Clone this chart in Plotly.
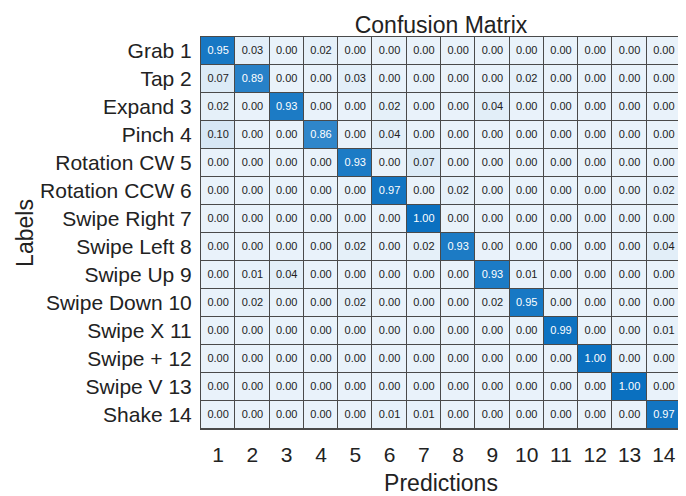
import plotly.graph_objects as go

row_labels = ["Grab 1", "Tap 2", "Expand 3", "Pinch 4", "Rotation CW 5", "Rotation CCW 6",
              "Swipe Right 7", "Swipe Left 8", "Swipe Up 9", "Swipe Down 10", "Swipe X 11",
              "Swipe + 12", "Swipe V 13", "Shake 14"]
col_labels = [str(i) for i in range(1, 15)]

matrix = [
    [0.95, 0.03, 0.00, 0.02, 0.00, 0.00, 0.00, 0.00, 0.00, 0.00, 0.00, 0.00, 0.00, 0.00],
    [0.07, 0.89, 0.00, 0.00, 0.03, 0.00, 0.00, 0.00, 0.00, 0.02, 0.00, 0.00, 0.00, 0.00],
    [0.02, 0.00, 0.93, 0.00, 0.00, 0.02, 0.00, 0.00, 0.04, 0.00, 0.00, 0.00, 0.00, 0.00],
    [0.10, 0.00, 0.00, 0.86, 0.00, 0.04, 0.00, 0.00, 0.00, 0.00, 0.00, 0.00, 0.00, 0.00],
    [0.00, 0.00, 0.00, 0.00, 0.93, 0.00, 0.07, 0.00, 0.00, 0.00, 0.00, 0.00, 0.00, 0.00],
    [0.00, 0.00, 0.00, 0.00, 0.00, 0.97, 0.00, 0.02, 0.00, 0.00, 0.00, 0.00, 0.00, 0.02],
    [0.00, 0.00, 0.00, 0.00, 0.00, 0.00, 1.00, 0.00, 0.00, 0.00, 0.00, 0.00, 0.00, 0.00],
    [0.00, 0.00, 0.00, 0.00, 0.02, 0.00, 0.02, 0.93, 0.00, 0.00, 0.00, 0.00, 0.00, 0.04],
    [0.00, 0.01, 0.04, 0.00, 0.00, 0.00, 0.00, 0.00, 0.93, 0.01, 0.00, 0.00, 0.00, 0.00],
    [0.00, 0.02, 0.00, 0.00, 0.02, 0.00, 0.00, 0.00, 0.02, 0.95, 0.00, 0.00, 0.00, 0.00],
    [0.00, 0.00, 0.00, 0.00, 0.00, 0.00, 0.00, 0.00, 0.00, 0.00, 0.99, 0.00, 0.00, 0.01],
    [0.00, 0.00, 0.00, 0.00, 0.00, 0.00, 0.00, 0.00, 0.00, 0.00, 0.00, 1.00, 0.00, 0.00],
    [0.00, 0.00, 0.00, 0.00, 0.00, 0.00, 0.00, 0.00, 0.00, 0.00, 0.00, 0.00, 1.00, 0.00],
    [0.00, 0.00, 0.00, 0.00, 0.00, 0.01, 0.01, 0.00, 0.00, 0.00, 0.00, 0.00, 0.00, 0.97],
]

FONT = "Liberation Sans, Arial, sans-serif"
TXT = "#222222"

fig = go.Figure()
fig.add_trace(go.Heatmap(
    z=matrix, x=col_labels, y=row_labels,
    colorscale=[[0.0, "#e9f2fa"], [0.5, "#8dbde3"], [1.0, "#0a70c0"]],
    zmin=0, zmax=1, showscale=False, xgap=1, ygap=1, hoverinfo="skip",
))

tx, ty, tt, tc = [], [], [], []
for i, r in enumerate(row_labels):
    for j, c in enumerate(col_labels):
        v = matrix[i][j]
        tx.append(c); ty.append(r); tt.append(f"{v:.2f}")
        tc.append("white" if v > 0.5 else TXT)
fig.add_trace(go.Scatter(
    x=tx, y=ty, text=tt, mode="text",
    textfont=dict(family=FONT, size=11, color=tc), hoverinfo="skip", showlegend=False,
))

# page body has an 8px default margin, so the figure is sized to fit inside it
fig.update_layout(
    width=678, height=488,
    margin=dict(l=193, r=5, t=29, b=67),
    paper_bgcolor="white", plot_bgcolor="#4a4a4a",
    title=dict(text="Confusion Matrix", x=0.5, xref="paper", xanchor="center",
               y=0.966, yanchor="middle",
               font=dict(family=FONT, size=23, color=TXT)),
    font=dict(family=FONT, color=TXT),
    showlegend=False,
)
fig.update_xaxes(
    type="category", range=[-0.5, 13.5], automargin=False,
    tickfont=dict(size=21, color=TXT),
    title=dict(text="Predictions", font=dict(size=23, color=TXT), standoff=9),
    showgrid=False, zeroline=False, ticks="", ticklabelstandoff=7,
    showline=True, linecolor="#4a4a4a", linewidth=1, mirror=True,
)
fig.update_yaxes(
    type="category", range=[13.5, -0.5], automargin=False,
    tickfont=dict(size=21, color=TXT),
    title=dict(text="Labels", font=dict(size=23, color=TXT), standoff=0),
    showgrid=False, zeroline=False, ticks="", ticklabelstandoff=4,
    showline=True, linecolor="#4a4a4a", linewidth=1, mirror=True,
)

fig.write_html("out.html")
